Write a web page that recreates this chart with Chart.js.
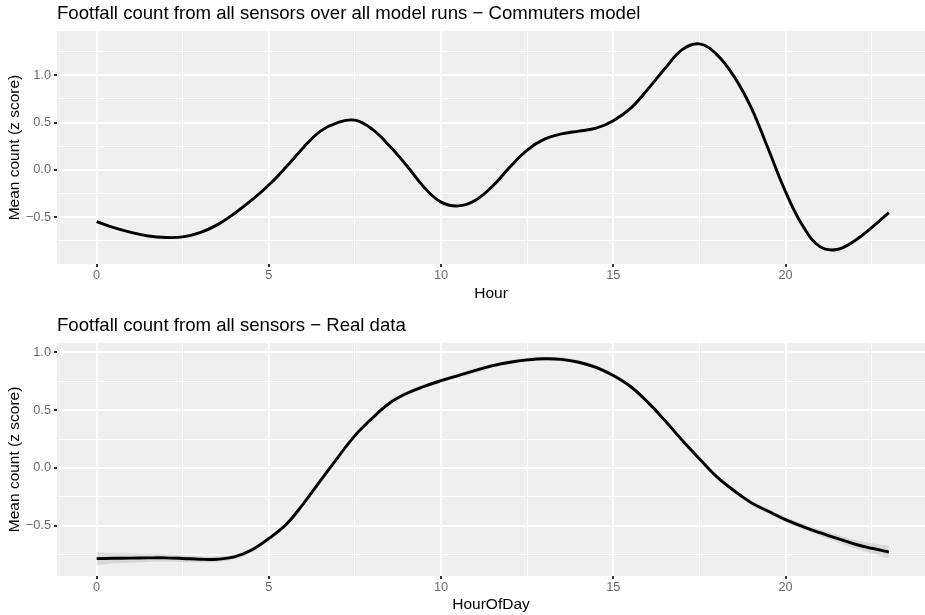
<!DOCTYPE html>
<html>
<head>
<meta charset="utf-8">
<title>Footfall count</title>
<script src="https://cdn.jsdelivr.net/npm/chart.js@4.4.1/dist/chart.umd.min.js"></script>
<style>
  html, body { margin: 0; padding: 0; background: #fff; overflow: hidden; }
  #wrap { position: relative; width: 925px; height: 615px; }
  .panel { position: absolute; left: 0; width: 925px; }
  #top_panel { top: 0; height: 307px; }
  #bottom_panel { top: 307px; height: 308px; }
</style>
</head>
<body>
<div id="wrap">
  <div class="panel" id="top_panel"><canvas id="model_chart"></canvas></div>
  <div class="panel" id="bottom_panel"><canvas id="real_chart"></canvas></div>
</div>
<script>
// smoothed hourly means, sampled every half hour
const hours = [0, 0.5, 1, 1.5, 2, 2.5, 3, 3.5, 4, 4.5, 5, 5.5, 6, 6.5, 7, 7.5, 8, 8.5, 9, 9.5,
    10, 10.5, 11, 11.5, 12, 12.5, 13, 13.5, 14, 14.5, 15, 15.5, 16, 16.5, 17, 17.5, 18, 18.5, 19, 19.5,
    20, 20.5, 21, 21.5, 22, 22.5, 23];

const modelCount = [-0.545, -0.61, -0.66, -0.697, -0.713, -0.707, -0.662, -0.58, -0.46, -0.32,
    -0.16, 0.03, 0.235, 0.41, 0.50, 0.525, 0.43, 0.255, 0.047, -0.18,
    -0.34, -0.38, -0.32, -0.17, 0.03, 0.21, 0.325, 0.38, 0.41, 0.44,
    0.52, 0.65, 0.85, 1.07, 1.27, 1.33, 1.22, 0.99, 0.66, 0.22,
    -0.23, -0.59, -0.81, -0.84, -0.75, -0.61, -0.45];

const realCount = [-0.785, -0.782, -0.780, -0.778, -0.778, -0.783, -0.790, -0.790, -0.770, -0.710,
    -0.610, -0.490, -0.310, -0.110, 0.090, 0.280, 0.430, 0.560, 0.645, 0.705,
    0.755, 0.800, 0.845, 0.885, 0.915, 0.935, 0.945, 0.940, 0.915, 0.870,
    0.800, 0.705, 0.570, 0.410, 0.240, 0.080, -0.075, -0.195, -0.300, -0.375,
    -0.447, -0.507, -0.560, -0.610, -0.658, -0.695, -0.727];

// standard error band around the real data curve
const realLower = [-0.840, -0.827, -0.820, -0.813, -0.811, -0.813, -0.817, -0.814, -0.791, -0.730,
    -0.629, -0.508, -0.328, -0.128, 0.072, 0.262, 0.412, 0.542, 0.627, 0.687,
    0.737, 0.782, 0.827, 0.867, 0.897, 0.917, 0.927, 0.922, 0.897, 0.852,
    0.782, 0.687, 0.552, 0.392, 0.222, 0.062, -0.093, -0.214, -0.320, -0.396,
    -0.469, -0.531, -0.587, -0.641, -0.694, -0.739, -0.782];

const realUpper = [-0.730, -0.737, -0.740, -0.743, -0.745, -0.753, -0.763, -0.766, -0.749, -0.690,
    -0.591, -0.472, -0.292, -0.092, 0.108, 0.298, 0.448, 0.578, 0.663, 0.723,
    0.773, 0.818, 0.863, 0.903, 0.933, 0.953, 0.963, 0.958, 0.933, 0.888,
    0.818, 0.723, 0.588, 0.428, 0.258, 0.098, -0.057, -0.176, -0.280, -0.354,
    -0.425, -0.483, -0.533, -0.579, -0.622, -0.651, -0.672];

const hourTicks = [0, 5, 10, 15, 20];
const hourMinor = [2.5, 7.5, 12.5, 17.5, 22.5];
const countTicks = [-0.5, 0, 0.5, 1];
const modelMinor = [-0.75, -0.25, 0.25, 0.75, 1.25];
const realMinor = [-0.75, -0.25, 0.25, 0.75];

Chart.defaults.font.family = '"Liberation Sans", Arial, Helvetica, sans-serif';

// grey panel behind the grid, ggplot style
const panelBackground = {
    id: 'panelBackground',
    beforeDraw: function (chart) {
        var a = chart.chartArea;
        var ctx = chart.ctx;
        ctx.save();
        ctx.fillStyle = '#EFEFEF';
        ctx.fillRect(a.left, a.top, a.right - a.left, a.bottom - a.top);
        ctx.restore();
    }
};

function toPoints(values) {
    return hours.map(function (h, i) {
        return {x: h, y: values[i]};
    });
}

function minusSign(value) {
    return value.toFixed(1).replace('-', '\u2212');
}

function gridOptions(majors) {
    return {
        color: '#FFFFFF',
        lineWidth: function (c) {
            return majors.indexOf(c.tick.value) >= 0 ? 2 : 1;
        },
        drawTicks: true,
        tickLength: 3,
        tickWidth: 2,
        tickColor: function (c) {
            return majors.indexOf(c.tick.value) >= 0 ? '#333333' : 'rgba(0,0,0,0)';
        }
    };
}

function buildChart(canvasId, opts) {
    var datasets = [{
            data: toPoints(opts.values),
            borderColor: '#000000',
            borderWidth: 2.9,
            pointRadius: 0,
            tension: 0.4,
            fill: false,
            order: 0
        }];

    if (opts.lower) {
        datasets.push({
            data: toPoints(opts.lower),
            borderWidth: 0,
            pointRadius: 0,
            tension: 0.4,
            fill: false,
            order: 1
        });
        datasets.push({
            data: toPoints(opts.upper),
            borderWidth: 0,
            pointRadius: 0,
            tension: 0.4,
            fill: '-1',
            backgroundColor: 'rgba(153, 153, 153, 0.28)',
            order: 1
        });
    }

    return new Chart(document.getElementById(canvasId), {
        type: 'line',
        data: {datasets: datasets},
        plugins: [panelBackground],
        options: {
            responsive: true,
            maintainAspectRatio: false,
            animation: false,
            devicePixelRatio: 1,
            layout: {padding: 0},
            plugins: {
                legend: {display: false},
                tooltip: {enabled: false},
                title: {
                    display: true,
                    text: opts.title,
                    align: 'start',
                    fullSize: false,
                    color: '#000000',
                    font: {size: 18.6, weight: 'normal', lineHeight: 1.2},
                    padding: opts.titlePadding
                }
            },
            scales: {
                x: {
                    type: 'linear',
                    min: -1.15,
                    max: 24.05,
                    afterBuildTicks: function (scale) {
                        scale.ticks = hourTicks.concat(hourMinor).sort(function (a, b) {
                            return a - b;
                        }).map(function (v) {
                            return {value: v};
                        });
                    },
                    afterFit: function (scale) {
                        scale.height = opts.xAxisHeight;
                    },
                    ticks: {
                        autoSkip: false,
                        maxRotation: 0,
                        padding: opts.xTickPad,
                        color: '#6B6B6B',
                        font: {size: 12.8},
                        callback: function (value) {
                            return hourTicks.indexOf(value) >= 0 ? String(value) : '';
                        }
                    },
                    grid: gridOptions(hourTicks),
                    border: {display: false},
                    title: {
                        display: true,
                        text: opts.xTitle,
                        color: '#000000',
                        font: {size: 15.5, lineHeight: 1.2},
                        padding: {top: 0, bottom: opts.xTitlePad}
                    }
                },
                y: {
                    type: 'linear',
                    min: opts.yMin,
                    max: opts.yMax,
                    afterBuildTicks: function (scale) {
                        scale.ticks = countTicks.concat(opts.yMinor).sort(function (a, b) {
                            return a - b;
                        }).map(function (v) {
                            return {value: v};
                        });
                    },
                    afterFit: function (scale) {
                        scale.width = 57;
                    },
                    ticks: {
                        autoSkip: false,
                        padding: 3,
                        color: '#6B6B6B',
                        font: {size: 12.8},
                        callback: function (value) {
                            return countTicks.indexOf(value) >= 0 ? minusSign(value) : '';
                        }
                    },
                    grid: gridOptions(countTicks),
                    border: {display: false},
                    title: {
                        display: true,
                        text: 'Mean count (z score)',
                        color: '#000000',
                        font: {size: 15.5, lineHeight: 1.2},
                        padding: {top: 5.2, bottom: 0}
                    }
                }
            }
        }
    });
}

var modelChart = buildChart('model_chart', {
    title: 'Footfall count from all sensors over all model runs \u2212 Commuters model',
    titlePadding: {top: 2.6, bottom: 6.2},
    values: modelCount,
    yMin: -0.993,
    yMax: 1.465,
    yMinor: modelMinor,
    xTitle: 'Hour',
    xAxisHeight: 43,
    xTickPad: 1,
    xTitlePad: 4.4
});

var realChart = buildChart('real_chart', {
    title: 'Footfall count from all sensors \u2212 Real data',
    titlePadding: {top: 7.4, bottom: 6.1},
    values: realCount,
    lower: realLower,
    upper: realUpper,
    yMin: -0.935,
    yMax: 1.083,
    yMinor: realMinor,
    xTitle: 'HourOfDay',
    xAxisHeight: 39,
    xTickPad: 1.2,
    xTitlePad: 0.7
});
</script>
</body>
</html>
